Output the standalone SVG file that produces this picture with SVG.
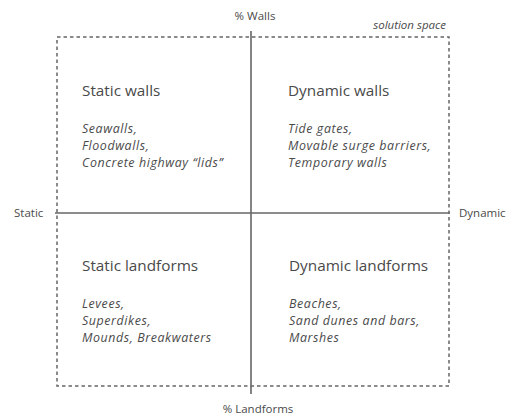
<svg xmlns="http://www.w3.org/2000/svg" width="516" height="417" viewBox="0 0 516 417">
<style>
.t{font-family:"Open Sans","Noto Sans",sans-serif;fill:#4a4a4a}
.h{font-size:15.3px}
.i{font-size:12.4px;font-style:italic;letter-spacing:0.6px}
.s{font-size:11.5px}
</style>
<rect width="516" height="417" fill="#fff"/>
<g id="connectors" stroke="#666">
<rect id="solution-space" x="57" y="37" width="392" height="349" fill="none" stroke-width="1.5" stroke-dasharray="3.5,3"/>
<line x1="251" y1="31" x2="251" y2="394" stroke-width="1.6"/>
<line x1="55" y1="213" x2="450" y2="213" stroke-width="1.6"/>
</g>
<g id="axis-labels">
<text class="t s" x="255" y="20" text-anchor="middle">% Walls</text>
<text class="t s" x="446" y="29" text-anchor="end" font-style="italic" font-size="13">solution space</text>
<text class="t s" x="14" y="217">Static</text>
<text class="t s" x="459" y="217">Dynamic</text>
<text class="t s" x="258" y="413" text-anchor="middle">% Landforms</text>
</g>
<g id="static-walls">
<text class="t h" x="82" y="96">Static walls</text>
<text class="t i" x="82" y="133">Seawalls,</text>
<text class="t i" x="82" y="150">Floodwalls,</text>
<text class="t i" x="82" y="167">Concrete highway “lids”</text>
</g>
<g id="dynamic-walls">
<text class="t h" x="288" y="96">Dynamic walls</text>
<text class="t i" x="288" y="133">Tide gates,</text>
<text class="t i" x="288" y="150">Movable surge barriers,</text>
<text class="t i" x="288" y="167">Temporary walls</text>
</g>
<g id="static-landforms">
<text class="t h" x="82" y="271">Static landforms</text>
<text class="t i" x="82" y="308">Levees,</text>
<text class="t i" x="82" y="325">Superdikes,</text>
<text class="t i" x="82" y="342">Mounds, Breakwaters</text>
</g>
<g id="dynamic-landforms">
<text class="t h" x="289" y="271">Dynamic landforms</text>
<text class="t i" x="289" y="308">Beaches,</text>
<text class="t i" x="289" y="325">Sand dunes and bars,</text>
<text class="t i" x="289" y="342">Marshes</text>
</g>
</svg>
